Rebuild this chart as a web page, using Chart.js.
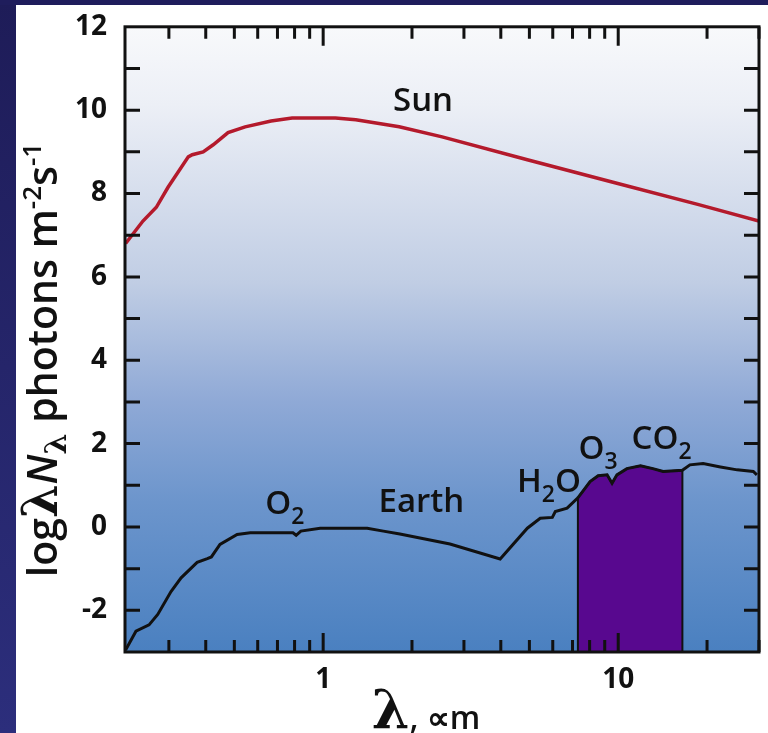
<!DOCTYPE html>
<html><head><meta charset="utf-8">
<script src="https://cdn.jsdelivr.net/npm/chart.js@4/dist/chart.umd.min.js"></script>
<style>html,body{margin:0;padding:0;background:#fff;overflow:hidden}#wrap{width:768px;height:733px;position:relative}</style>
</head><body><div id="wrap"><canvas id="c" width="768" height="733"></canvas></div>
<script>
// ---- data ----
const sunX = [0.214, 0.245, 0.272, 0.298, 0.349, 0.36, 0.392, 0.424, 0.476, 0.544, 0.666, 0.785, 1.1, 1.29, 1.81, 2.53, 4.92, 9.6, 18.6, 30];
const sunY = [6.8, 7.34, 7.67, 8.15, 8.88, 8.93, 9.0, 9.17, 9.46, 9.6, 9.74, 9.81, 9.81, 9.77, 9.6, 9.36, 8.81, 8.27, 7.74, 7.34];
const earthX = [0.214, 0.232, 0.257, 0.275, 0.305, 0.33, 0.374, 0.405, 0.418, 0.447, 0.511, 0.566, 0.79, 0.81, 0.84, 0.977, 1.41, 1.6, 1.82, 2.69, 3.98, 4.92, 5.44, 5.98, 6.12, 6.71, 7.3, 8.03, 8.55, 9.17, 9.53, 9.9, 10.7, 11.9, 13.1, 14.2, 16.5, 17.5, 19.4, 22.2, 25.3, 28.7, 29.5];
const earthY = [-2.95, -2.5, -2.35, -2.1, -1.55, -1.22, -0.85, -0.76, -0.72, -0.42, -0.18, -0.14, -0.14, -0.2, -0.1, -0.03, -0.03, -0.1, -0.17, -0.41, -0.77, -0.03, 0.21, 0.23, 0.37, 0.45, 0.7, 1.09, 1.23, 1.25, 1.05, 1.25, 1.4, 1.47, 1.4, 1.33, 1.36, 1.49, 1.52, 1.44, 1.37, 1.33, 1.25];
const bandStart = 7.3, bandEnd = 16.5;          // atmospheric window (shaded)
const xRange = [0.213, 30];
const yRange = [-3, 12];
const xTickLabels = [1, 10];
const yTickLabels = [-2, 0, 2, 4, 6, 8, 10, 12];
const xMinorTicks = [0.3, 0.4, 0.5, 0.6, 0.7, 0.8, 0.9, 2, 3, 4, 5, 6, 7, 8, 9, 20, 30];
const yMinorTicks = [-2, -1, 0, 1, 2, 3, 4, 5, 6, 7, 8, 9, 10, 11];
const labels = [
  {text: 'Sun',   sub: '',  x: 2.18, y: 9.98, align: 'center'},
  {text: 'Earth', sub: '',  x: 1.54, y: 0.37,  align: 'left'},
  {text: 'O',     sub: '2', x: 0.636, y: 0.30, align: 'left'},
  {text: 'H',     sub: '2', x: 4.54, y: 0.83,  align: 'left', rest: 'O'},
  {text: 'O',     sub: '3', x: 7.33, y: 1.62,  align: 'left'},
  {text: 'CO',    sub: '2', x: 11.1, y: 1.86,  align: 'left'}
];

const sunData = sunX.map((x, i) => ({x, y: sunY[i]}));
const earthData = earthX.map((x, i) => ({x, y: earthY[i]}));
const bandData = [{x: bandStart, y: yRange[0]}]
  .concat(earthData.filter(p => p.x >= bandStart && p.x <= bandEnd))
  .concat([{x: bandEnd, y: yRange[0]}]);

const FONT = '"Open Sans", "Noto Sans", sans-serif';
const INK = '#111';

function richWidth(ctx, segs) {
  let w = 0;
  for (const s of segs) { ctx.font = s.font; w += ctx.measureText(s.t).width; }
  return w;
}
function drawRich(ctx, segs, x, y, align) {
  let cx = 0;
  const w = richWidth(ctx, segs);
  if (align === 'center') cx = -w / 2;
  for (const s of segs) {
    ctx.font = s.font;
    ctx.fillText(s.t, x + cx, y + (s.dy || 0));
    cx += ctx.measureText(s.t).width;
  }
}

const deco = {
  id: 'deco',
  beforeDraw(chart) {
    const {ctx, chartArea: a} = chart;
    ctx.save();
    ctx.fillStyle = '#ffffff';
    ctx.fillRect(0, 0, chart.width, chart.height);
    const side = ctx.createLinearGradient(0, 0, 0, chart.height);
    side.addColorStop(0, '#1e1c58'); side.addColorStop(1, '#2c2e7c');
    ctx.fillStyle = side; ctx.fillRect(0, 0, 16, chart.height);
    ctx.fillStyle = '#1f1d5c'; ctx.fillRect(0, 0, chart.width, 5);
    const g = ctx.createLinearGradient(0, a.top, 0, a.bottom);
    g.addColorStop(0, '#f8f9fb'); g.addColorStop(0.125, '#eceff6');
    g.addColorStop(0.41, '#c0cde4'); g.addColorStop(0.6, '#8fa9d6');
    g.addColorStop(0.76, '#6c95cc'); g.addColorStop(1, '#4a80c0');
    ctx.fillStyle = g;
    ctx.fillRect(a.left, a.top, a.right - a.left, a.bottom - a.top);
    ctx.restore();
  },
  afterDraw(chart) {
    const {ctx, chartArea: a, scales} = chart;
    const xs = scales.x, ys = scales.y;
    ctx.save();
    ctx.strokeStyle = INK; ctx.lineWidth = 3;
    ctx.strokeRect(a.left, a.top, a.right - a.left, a.bottom - a.top);
    ctx.lineWidth = 3;
    ctx.beginPath();
    for (const v of xMinorTicks) {
      const px = xs.getPixelForValue(v);
      ctx.moveTo(px, a.bottom); ctx.lineTo(px, a.bottom - 12);
      ctx.moveTo(px, a.top); ctx.lineTo(px, a.top + 12);
    }
    for (const v of xTickLabels) {
      const px = xs.getPixelForValue(v);
      ctx.moveTo(px, a.bottom); ctx.lineTo(px, a.bottom - 19);
      ctx.moveTo(px, a.top); ctx.lineTo(px, a.top + 19);
    }
    for (const v of yMinorTicks) {
      const py = ys.getPixelForValue(v);
      ctx.moveTo(a.left, py); ctx.lineTo(a.left + 15, py);
      ctx.moveTo(a.right, py); ctx.lineTo(a.right - 15, py);
    }
    ctx.stroke();

    // annotations
    ctx.fillStyle = INK; ctx.textBaseline = 'alphabetic';
    const big = '600 33px ' + FONT, small = '600 23px ' + FONT;
    for (const L of labels) {
      const segs = [{t: L.text, font: big}];
      if (L.sub) segs.push({t: L.sub, font: small, dy: 10});
      if (L.rest) segs.push({t: L.rest, font: big});
      drawRich(ctx, segs, xs.getPixelForValue(L.x), ys.getPixelForValue(L.y), L.align);
    }

    // x-axis title
    drawRich(ctx, [
      {t: 'λ', font: 'bold 54px "DejaVu Serif", serif'},
      {t: ', ∝m', font: '600 32px ' + FONT}
    ], 426, 729, 'center');

    // y-axis title
    ctx.translate(57, 360);
    ctx.rotate(-Math.PI / 2);
    drawRich(ctx, [
      {t: 'log', font: '600 41px ' + FONT},
      {t: 'λ', font: 'bold 48px "DejaVu Serif", serif'},
      {t: 'N', font: 'italic 600 41px ' + FONT},
      {t: 'λ', font: 'bold 30px "DejaVu Serif", serif', dy: 9},
      {t: ' photons m', font: '600 41px ' + FONT},
      {t: '-2', font: '600 26px ' + FONT, dy: -16},
      {t: 's', font: '600 41px ' + FONT},
      {t: '-1', font: '600 26px ' + FONT, dy: -16}
    ], 0, 0, 'center');
    ctx.restore();
  }
};

new Chart(document.getElementById('c'), {
  type: 'line',
  data: {
    datasets: [
      {label: 'Sun', data: sunData, borderColor: '#b41a2c', borderWidth: 3.5, pointRadius: 0, tension: 0, fill: false},
      {label: 'Earth', data: earthData, borderColor: INK, borderWidth: 3, pointRadius: 0, tension: 0, fill: false},
      {label: 'Window', data: bandData, borderColor: INK, borderWidth: 2, backgroundColor: '#58088f', pointRadius: 0, tension: 0, fill: 'start'}
    ]
  },
  options: {
    responsive: false,
    animation: false,
    devicePixelRatio: 1,
    layout: {padding: {top: 21, right: 9, left: 0, bottom: 0}},
    plugins: {legend: {display: false}, tooltip: {enabled: false}},
    scales: {
      x: {
        type: 'logarithmic', min: xRange[0], max: xRange[1],
        grid: {display: false}, border: {display: false},
        afterBuildTicks: s => { s.ticks = xTickLabels.map(v => ({value: v})); },
        ticks: {color: INK, font: {family: FONT, size: 28, weight: '700'}, padding: 3, maxRotation: 0, autoSkip: false,
                callback: v => String(v)},
        afterFit: s => { s.height = 81; }
      },
      y: {
        type: 'linear', min: yRange[0], max: yRange[1],
        grid: {display: false}, border: {display: false},
        afterBuildTicks: s => { s.ticks = yTickLabels.map(v => ({value: v})); },
        ticks: {color: INK, font: {family: FONT, size: 28, weight: '700'}, padding: 10, autoSkip: false,
                callback: v => String(v)},
        afterFit: s => { s.width = 125; }
      }
    }
  },
  plugins: [deco]
});
</script></body></html>
